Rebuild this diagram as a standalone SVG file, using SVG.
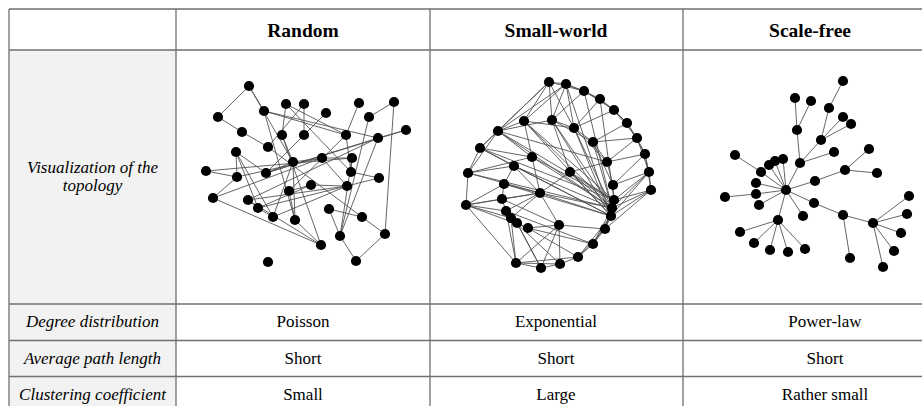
<svg xmlns="http://www.w3.org/2000/svg" width="922" height="406" viewBox="0 0 922 406">
<style>
.grid{stroke:#707070;stroke-width:1.3;fill:none}
.e{stroke:#4a4a4a;stroke-width:0.85;fill:none}
.n{fill:#000}
.n circle{r:5.1px}
.hd{font-family:'Liberation Serif',serif;font-weight:bold;font-size:19.5px;text-anchor:middle;fill:#000}
.lb{font-family:'Liberation Serif',serif;font-style:italic;font-size:17px;text-anchor:middle;fill:#000}
.bd{font-family:'Liberation Serif',serif;font-size:17px;text-anchor:middle;fill:#000}
</style>
<rect x="0" y="0" width="922" height="406" fill="#fff"/>
<rect x="9" y="50" width="167" height="356" fill="#f2f2f2"/>
<g id="grid" class="grid">
<path d="M9 9H922M9 50H922M9 304H922M9 340.5H922M9 376.5H922"/>
<path d="M9 9V406M176 9V406M430 9V406M683 9V406"/>
</g>
<g id="headers">
<text class="hd" x="303" y="37">Random</text>
<text class="hd" x="556" y="37">Small-world</text>
<text class="hd" x="810" y="37">Scale-free</text>
</g>
<g id="row-labels">
<text class="lb" x="92.5" y="173">Visualization of the</text>
<text class="lb" x="92.5" y="191">topology</text>
<text class="lb" x="92.5" y="327">Degree distribution</text>
<text class="lb" x="92.5" y="363.5">Average path length</text>
<text class="lb" x="92.5" y="400">Clustering coefficient</text>
</g>
<g id="cells">
<text class="bd" x="303" y="327">Poisson</text>
<text class="bd" x="556" y="327">Exponential</text>
<text class="bd" x="825" y="327">Power-law</text>
<text class="bd" x="303" y="363.5">Short</text>
<text class="bd" x="556" y="363.5">Short</text>
<text class="bd" x="825" y="363.5">Short</text>
<text class="bd" x="303" y="400">Small</text>
<text class="bd" x="556" y="400">Large</text>
<text class="bd" x="825" y="400">Rather small</text>
</g>
<g id="random-net">
<g id="random-edges" class="e">
<path d="M249 86L218 117M218 117L242 132M249 86L264 111M249 86L293 162M264 111L346 135M264 111L378 138M264 111L295 220M286 104L282 135M286 104L346 135M286 104L351 172M304 104L304 135M326 113L304 135M304 135L266 173M359 103L346 135M394 102L369 117M394 102L385 234M369 117L340 236M406 130L266 173M378 138L248 200M282 135L293 162M282 135L321 245M242 132L268 147M268 147L362 217M236 152L237 177M236 152L266 173M236 152L258 208M236 152L273 217M206 171L352 158M206 171L237 177M237 177L213 198M237 177L322 158M266 173L378 138M266 173L293 162M293 162L322 158M293 162L295 220M322 158L352 158M322 158L347 186M352 158L351 172M352 158L340 236M351 172L379 178M351 172L346 135M347 186L311 185M347 186L248 200M311 185L289 191M311 185L258 208M289 191L295 220M289 191L346 135M213 198L321 245M213 198L322 158M248 200L258 208M258 208L273 217M258 208L379 178M273 217L293 162M329 209L362 217M329 209L340 236M362 217L385 234M340 236L356 261M385 234L356 261M321 245L295 220M248 200L321 245M406 130L378 138M273 217L347 186M304 104L268 147M378 138L340 236"/>
</g>
<g id="random-nodes" class="n">
<circle id="r1" cx="249" cy="86" r="5.1"/><circle id="r2" cx="218" cy="117" r="5.1"/><circle id="r3" cx="264" cy="111" r="5.1"/><circle id="r4" cx="286" cy="104" r="5.1"/><circle id="r5" cx="304" cy="104" r="5.1"/><circle id="r6" cx="326" cy="113" r="5.1"/><circle id="r7" cx="359" cy="103" r="5.1"/><circle id="r8" cx="394" cy="102" r="5.1"/><circle id="r9" cx="369" cy="117" r="5.1"/><circle id="r10" cx="406" cy="130" r="5.1"/>
<circle id="r11" cx="378" cy="138" r="5.1"/><circle id="r12" cx="346" cy="135" r="5.1"/><circle id="r13" cx="304" cy="135" r="5.1"/><circle id="r14" cx="282" cy="135" r="5.1"/><circle id="r15" cx="242" cy="132" r="5.1"/><circle id="r16" cx="268" cy="147" r="5.1"/><circle id="r17" cx="236" cy="152" r="5.1"/><circle id="r18" cx="206" cy="171" r="5.1"/><circle id="r19" cx="237" cy="177" r="5.1"/><circle id="r20" cx="266" cy="173" r="5.1"/>
<circle id="r21" cx="293" cy="162" r="5.1"/><circle id="r22" cx="322" cy="158" r="5.1"/><circle id="r23" cx="352" cy="158" r="5.1"/><circle id="r24" cx="351" cy="172" r="5.1"/><circle id="r25" cx="379" cy="178" r="5.1"/><circle id="r26" cx="347" cy="186" r="5.1"/><circle id="r27" cx="311" cy="185" r="5.1"/><circle id="r28" cx="289" cy="191" r="5.1"/><circle id="r29" cx="213" cy="198" r="5.1"/><circle id="r30" cx="248" cy="200" r="5.1"/>
<circle id="r31" cx="258" cy="208" r="5.1"/><circle id="r32" cx="273" cy="217" r="5.1"/><circle id="r33" cx="295" cy="220" r="5.1"/><circle id="r34" cx="329" cy="209" r="5.1"/><circle id="r35" cx="362" cy="217" r="5.1"/><circle id="r36" cx="340" cy="236" r="5.1"/><circle id="r37" cx="385" cy="234" r="5.1"/><circle id="r38" cx="321" cy="245" r="5.1"/><circle id="r39" cx="356" cy="261" r="5.1"/><circle id="r40" cx="268" cy="262" r="5.1"/>
</g>
</g>
<g id="smallworld-net">
<g id="smallworld-edges" class="e">
<path d="M549 82L566 84M566 84L584 91M584 91L600 99M600 99L614 110M614 110L627 123M627 123L637 138M637 138L645 154M645 154L649 172M649 172L651 190M651 190L614 200M651 190L611 216M611 216L605 229M605 229L593 244M593 244L578 257M578 257L560 264M560 264L541 268M541 268L516 263M549 82L524 121M524 121L498 131M498 131L480 148M480 148L468 173M468 173L466 205M549 82L584 91M566 84L600 99M584 91L614 110M600 99L627 123M614 110L637 138M627 123L645 154M637 138L649 172M645 154L651 190M649 172L614 200M651 190L605 229M549 82L498 131M566 84L498 131M549 82L480 148M566 84L524 121M498 131L612 208M524 121L612 208M552 120L612 208M574 128L611 216M532 157L614 200M514 166L612 208M468 173L612 208M504 184L611 216M480 148L614 200M566 84L611 216M584 91L612 208M593 142L612 208M570 172L611 216M600 99L614 200M552 120L611 216M574 128L612 208M524 121L611 216M516 263L560 264M516 263L578 257M516 263L559 225M541 268L559 225M560 264L559 225M541 268L517 223M528 228L578 257M511 218L560 264M506 211L593 244M528 228L593 244M559 225L605 229M540 193L468 173M540 193L466 205M540 193L514 166M540 193L504 184M540 193L502 199M540 193L506 211M540 193L511 218M540 193L611 216M540 193L612 208M540 193L559 225M540 193L532 157M466 205L504 184M466 205L502 199M466 205L506 211M466 205L511 218M466 205L528 228M468 173L514 166M468 173L532 157M468 173L498 131M480 148L514 166M480 148L532 157M498 131L532 157M498 131L552 120M498 131L607 162M524 121L574 128M524 121L532 157M552 120L574 128M552 120L570 172M552 120L593 142M574 128L593 142M574 128L607 162M593 142L607 162M593 142L613 185M607 162L613 185M607 162L570 172M570 172L540 193M570 172L612 208M570 172L614 200M613 185L614 200M649 172L613 185M645 154L607 162M637 138L593 142M627 123L593 142M614 110L574 128M600 99L574 128M584 91L552 120M566 84L552 120M549 82L574 128M566 84L574 128M549 82L552 120M504 184L502 199M504 184L514 166M502 199L506 211M506 211L511 218M511 218L517 223M517 223L528 228M528 228L559 225M506 211L516 263M511 218L516 263M517 223L541 268M605 229L612 208M605 229L614 200M593 244L612 208M593 244L611 216M578 257L611 216M578 257L605 229M649 172L612 208M649 172L611 216M651 190L612 208M645 154L613 185M637 138L607 162M466 205L516 263M480 148L611 216M498 131L614 200M514 166L611 216M532 157L612 208M502 199L559 225M524 121L614 200"/>
</g>
<g id="smallworld-nodes" class="n">
<circle id="s1" cx="549" cy="82" r="5.1"/><circle id="s2" cx="566" cy="84" r="5.1"/><circle id="s3" cx="584" cy="91" r="5.1"/><circle id="s4" cx="600" cy="99" r="5.1"/><circle id="s5" cx="614" cy="110" r="5.1"/><circle id="s6" cx="627" cy="123" r="5.1"/><circle id="s7" cx="637" cy="138" r="5.1"/><circle id="s8" cx="645" cy="154" r="5.1"/><circle id="s9" cx="649" cy="172" r="5.1"/><circle id="s10" cx="651" cy="190" r="5.1"/>
<circle id="s11" cx="524" cy="121" r="5.1"/><circle id="s12" cx="552" cy="120" r="5.1"/><circle id="s13" cx="574" cy="128" r="5.1"/><circle id="s14" cx="498" cy="131" r="5.1"/><circle id="s15" cx="593" cy="142" r="5.1"/><circle id="s16" cx="480" cy="148" r="5.1"/><circle id="s17" cx="532" cy="157" r="5.1"/><circle id="s18" cx="514" cy="166" r="5.1"/><circle id="s19" cx="607" cy="162" r="5.1"/><circle id="s20" cx="468" cy="173" r="5.1"/>
<circle id="s21" cx="570" cy="172" r="5.1"/><circle id="s22" cx="504" cy="184" r="5.1"/><circle id="s23" cx="613" cy="185" r="5.1"/><circle id="s24" cx="540" cy="193" r="5.1"/><circle id="s25" cx="502" cy="199" r="5.1"/><circle id="s26" cx="466" cy="205" r="5.1"/><circle id="s27" cx="614" cy="200" r="5.1"/><circle id="s28" cx="612" cy="208" r="5.1"/><circle id="s29" cx="506" cy="211" r="5.1"/><circle id="s30" cx="611" cy="216" r="5.1"/>
<circle id="s31" cx="511" cy="218" r="5.1"/><circle id="s32" cx="517" cy="223" r="5.1"/><circle id="s33" cx="528" cy="228" r="5.1"/><circle id="s34" cx="559" cy="225" r="5.1"/><circle id="s35" cx="605" cy="229" r="5.1"/><circle id="s36" cx="593" cy="244" r="5.1"/><circle id="s37" cx="578" cy="257" r="5.1"/><circle id="s38" cx="560" cy="264" r="5.1"/><circle id="s39" cx="541" cy="268" r="5.1"/><circle id="s40" cx="516" cy="263" r="5.1"/>
</g>
</g>
<g id="scalefree-net">
<g id="scalefree-edges" class="e">
<path d="M843 81L829 108M829 108L821 140M843 117L821 140M851 124L821 140M821 140L800 163M795 98L797 130M811 101L797 130M797 130L800 163M834 152L800 163M800 163L786 190M869 149L845 170M845 170L877 173M845 170L815 181M815 181L786 190M735 155L761 172M761 172L786 190M769 165L786 190M775 161L786 190M783 159L786 190M756 183L786 190M756 194L786 190M759 205L786 190M725 197L756 194M786 190L803 216M786 190L814 203M814 203L843 215M843 215L850 258M843 215L873 223M873 223L909 196M873 223L907 214M873 223L901 233M873 223L894 251M873 223L883 267M786 190L778 220M778 220L740 232M778 220L754 243M778 220L770 250M778 220L788 252M778 220L805 249"/>
</g>
<g id="scalefree-nodes" class="n">
<circle id="f1" cx="843" cy="81" r="5.1"/><circle id="f2" cx="795" cy="98" r="5.1"/><circle id="f3" cx="811" cy="101" r="5.1"/><circle id="f4" cx="829" cy="108" r="5.1"/><circle id="f5" cx="843" cy="117" r="5.1"/><circle id="f6" cx="851" cy="124" r="5.1"/><circle id="f7" cx="797" cy="130" r="5.1"/><circle id="f8" cx="821" cy="140" r="5.1"/><circle id="f9" cx="869" cy="149" r="5.1"/><circle id="f10" cx="735" cy="155" r="5.1"/>
<circle id="f11" cx="834" cy="152" r="5.1"/><circle id="f12" cx="783" cy="159" r="5.1"/><circle id="f13" cx="775" cy="161" r="5.1"/><circle id="f14" cx="769" cy="165" r="5.1"/><circle id="f15" cx="761" cy="172" r="5.1"/><circle id="f16" cx="800" cy="163" r="5.1"/><circle id="f17" cx="845" cy="170" r="5.1"/><circle id="f18" cx="877" cy="173" r="5.1"/><circle id="f19" cx="756" cy="183" r="5.1"/><circle id="f20" cx="815" cy="181" r="5.1"/>
<circle id="f21" cx="786" cy="190" r="5.1"/><circle id="f22" cx="725" cy="197" r="5.1"/><circle id="f23" cx="756" cy="194" r="5.1"/><circle id="f24" cx="759" cy="205" r="5.1"/><circle id="f25" cx="814" cy="203" r="5.1"/><circle id="f26" cx="803" cy="216" r="5.1"/><circle id="f27" cx="909" cy="196" r="5.1"/><circle id="f28" cx="843" cy="215" r="5.1"/><circle id="f29" cx="907" cy="214" r="5.1"/><circle id="f30" cx="778" cy="220" r="5.1"/>
<circle id="f31" cx="873" cy="223" r="5.1"/><circle id="f32" cx="901" cy="233" r="5.1"/><circle id="f33" cx="740" cy="232" r="5.1"/><circle id="f34" cx="754" cy="243" r="5.1"/><circle id="f35" cx="770" cy="250" r="5.1"/><circle id="f36" cx="788" cy="252" r="5.1"/><circle id="f37" cx="805" cy="249" r="5.1"/><circle id="f38" cx="894" cy="251" r="5.1"/><circle id="f39" cx="850" cy="258" r="5.1"/><circle id="f40" cx="883" cy="267" r="5.1"/>
</g>
</g>
</svg>
